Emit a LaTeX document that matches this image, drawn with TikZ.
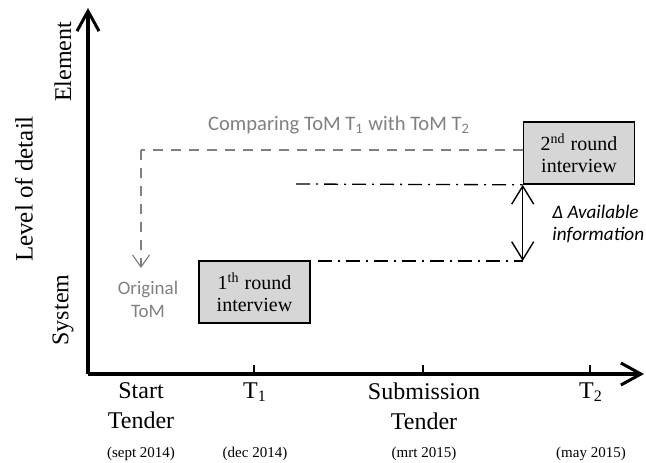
\documentclass[tikz,border=0pt]{standalone}
\usepackage{fontspec}
\setmainfont{Liberation Serif}
\newfontfamily\calfont{Carlito}
\usetikzlibrary{arrows.meta, positioning}
\tikzstyle{axis} = [draw, line width=1.6pt, -{Straight Barb[length=10pt, width=11pt, line width=1.5pt]}]
\tikzstyle{tick} = [draw, line width=0.8pt]
\tikzstyle{roundbox} = [rectangle, draw, line width=0.8pt, fill=black!16, align=center, minimum width=55.5pt, minimum height=31pt, inner sep=1pt, font=\fontsize{10}{11}\selectfont]
\tikzstyle{compare} = [draw, gray, dash pattern=on 5pt off 4pt, line width=0.6pt]
\tikzstyle{level} = [draw, line width=0.65pt, dash pattern=on 7pt off 3pt on 1pt off 3pt]
\tikzstyle{graytext} = [text=gray, align=center, font=\calfont\fontsize{9.5}{11.5}\selectfont]
\tikzstyle{timelabel} = [align=center, inner sep=0pt, font=\fontsize{12}{15}\selectfont]
\tikzstyle{datelabel} = [anchor=base, font=\fontsize{7.5}{9}\selectfont]
\tikzstyle{sidelabel} = [rotate=90, font=\fontsize{12}{12}\selectfont]

\begin{document}
\begin{tikzpicture}[x=0.5pt, y=-0.5pt]
        \useasboundingbox (0,0) rectangle (646,462);

        % axes
        \coordinate (o) at (88,374);
        \coordinate (ytop) at (88,8);
        \coordinate (xend) at (644,374);
        \path[axis] (o) -- (ytop);
        \path[axis] (o) -- (xend);

        \node[sidelabel] (el) at (63,62) {Element};
        \node[sidelabel] (sy) at (63,310) {System};
        \node[sidelabel, font=\fontsize{12.5}{13}\selectfont] (lod) at (24,189) {Level of detail};

        % time line
        \foreach \x in {254,423,590} {
            \path[tick] (\x,374) -- (\x,365);
        }
        \node[timelabel, anchor=north] (t0) at (141,382) {Start\\Tender};
        \node[timelabel, anchor=north] (t1) at (255,382) {T\textsubscript{1}};
        \node[timelabel, anchor=north] (t2) at (424,382) {Submission\\Tender};
        \node[timelabel, anchor=north] (t3) at (591,382) {T\textsubscript{2}};

        \node[datelabel] (d0) at (141,457) {(sept 2014)};
        \node[datelabel] (d1) at (255,457) {(dec 2014)};
        \node[datelabel] (d2) at (424,457) {(mrt 2015)};
        \node[datelabel] (d3) at (591,457) {(may 2015)};

        % interviews
        \node[roundbox] (box1) at (254.5,292) {1\textsuperscript{th} round\\interview};
        \node[roundbox] (box2) at (579,153) {2\textsuperscript{nd} round\\interview};

        % comparing
        \node[graytext] (orig) at (148,299) {Original\\ToM};
        \node[graytext, font=\calfont\fontsize{10.3}{12}\selectfont] (cmp) at (339,125) {Comparing ToM T\textsubscript{1} with ToM T\textsubscript{2}};
        \coordinate (c0) at (141,150);
        \coordinate (c4) at (141,268);
        \path[compare] (box2.west |- c0) -- (c0);
        \path[compare, -{Straight Barb[length=6pt, width=8.5pt, line width=0.6pt]}] (c0) -- (c4);

        % available information
        \coordinate (c1) at (296,184);
        \coordinate (c2) at (318,261);
        \coordinate (c3) at (box2.south west |- c2);
        \path[level] (c1) -- (box2.south west);
        \path[level] (c2) -- (c3);
        \path[draw, line width=0.7pt, {Straight Barb[length=9pt, width=11pt, line width=0.7pt]}-{Straight Barb[length=9pt, width=11pt, line width=0.7pt]}] (box2.south west) -- (c3);
        \node[anchor=north west, align=left, inner sep=0pt, font=\calfont\itshape\fontsize{9.6}{11}\selectfont] (info) at (552,205) {Δ\ Available\\information};
    \end{tikzpicture}
\end{document}
